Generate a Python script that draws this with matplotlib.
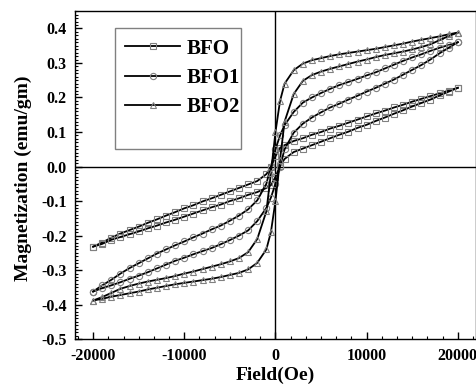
import matplotlib
matplotlib.use("Agg")
import matplotlib.pyplot as plt
from matplotlib.patches import Rectangle
from matplotlib.ticker import MultipleLocator, AutoMinorLocator

plt.rcParams["font.family"] = ["Liberation Serif", "DejaVu Serif"]
plt.rcParams["font.weight"] = "bold"
plt.rcParams["axes.unicode_minus"] = False

# Field grid (Oe), shared by every branch
field = [-20000, -19000, -18000, -17000, -16000, -15000, -14000, -13000, -12000, -11000,
         -10000, -9000, -8000, -7000, -6000, -5000, -4000, -3000, -2000, -1000,
         -500, 0, 500,
         1000, 2000, 3000, 4000, 5000, 6000, 7000, 8000, 9000, 10000,
         11000, 12000, 13000, 14000, 15000, 16000, 17000, 18000, 19000, 20000]

# Magnetization (emu/gm): descending branch (upper) and ascending branch (lower)
bfo_upper = [-0.232, -0.220, -0.206, -0.194, -0.184, -0.174, -0.163, -0.153, -0.142, -0.132,
             -0.121, -0.112, -0.101, -0.092, -0.082, -0.072, -0.062, -0.052, -0.042, -0.022,
             -0.002, 0.030, 0.054,
             0.062, 0.074, 0.082, 0.092, 0.100, 0.110, 0.118, 0.127, 0.136, 0.145,
             0.154, 0.162, 0.171, 0.179, 0.188, 0.196, 0.204, 0.212, 0.220, 0.228]
bfo_lower = [-0.232, -0.224, -0.212, -0.204, -0.196, -0.188, -0.179, -0.171, -0.162, -0.154,
             -0.145, -0.136, -0.127, -0.118, -0.110, -0.100, -0.092, -0.082, -0.074, -0.062,
             -0.054, -0.030, 0.002,
             0.022, 0.042, 0.052, 0.062, 0.072, 0.082, 0.092, 0.101, 0.112, 0.121,
             0.132, 0.142, 0.153, 0.163, 0.174, 0.184, 0.194, 0.206, 0.217, 0.228]

bfo1_upper = [-0.362, -0.344, -0.328, -0.310, -0.294, -0.280, -0.266, -0.252, -0.240, -0.228,
              -0.217, -0.205, -0.194, -0.182, -0.171, -0.157, -0.142, -0.124, -0.098, -0.050,
              0.000, 0.050, 0.090,
              0.120, 0.158, 0.185, 0.200, 0.213, 0.225, 0.236, 0.245, 0.254, 0.264,
              0.273, 0.284, 0.295, 0.306, 0.316, 0.325, 0.335, 0.344, 0.352, 0.360]
bfo1_lower = [-0.362, -0.352, -0.344, -0.335, -0.325, -0.316, -0.306, -0.295, -0.284, -0.273,
              -0.264, -0.254, -0.245, -0.236, -0.225, -0.213, -0.200, -0.185, -0.158, -0.120,
              -0.090, -0.050, 0.000,
              0.050, 0.098, 0.124, 0.142, 0.157, 0.171, 0.182, 0.194, 0.205, 0.217,
              0.228, 0.240, 0.252, 0.266, 0.280, 0.294, 0.310, 0.328, 0.344, 0.360]

bfo2_upper = [-0.388, -0.378, -0.366, -0.354, -0.346, -0.339, -0.333, -0.328, -0.323, -0.317,
              -0.310, -0.304, -0.297, -0.290, -0.283, -0.275, -0.265, -0.248, -0.210, -0.130,
              -0.020, 0.100, 0.190,
              0.240, 0.279, 0.298, 0.308, 0.314, 0.320, 0.325, 0.329, 0.333, 0.337,
              0.341, 0.346, 0.351, 0.356, 0.362, 0.367, 0.372, 0.377, 0.383, 0.388]
bfo2_lower = [-0.388, -0.383, -0.377, -0.372, -0.367, -0.362, -0.356, -0.351, -0.346, -0.341,
              -0.337, -0.333, -0.329, -0.325, -0.320, -0.314, -0.308, -0.298, -0.279, -0.240,
              -0.190, -0.100, 0.020,
              0.130, 0.210, 0.248, 0.265, 0.275, 0.283, 0.290, 0.297, 0.304, 0.310,
              0.317, 0.323, 0.328, 0.333, 0.339, 0.346, 0.354, 0.366, 0.378, 0.388]

samples = [("BFO", "s", bfo_upper, bfo_lower),
           ("BFO1", "o", bfo1_upper, bfo1_lower),
           ("BFO2", "^", bfo2_upper, bfo2_lower)]

fig = plt.figure(figsize=(4.77, 3.85), dpi=100)
ax = fig.add_axes([0.157, 0.119, 0.841, 0.852])

ax.axhline(0, color="black", lw=1.0, zorder=1)
ax.axvline(0, color="black", lw=1.0, zorder=1)

style = dict(color="black", lw=1.3, ms=4.5, mfc="none", mec="#808080", mew=0.8)
for name, marker, upper, lower in samples:
    ax.plot(field, upper, marker=marker, label=name, **style)
    ax.plot(field, lower, marker=marker, **style)

ax.set_xlim(-22000, 22000)
ax.set_ylim(-0.5, 0.45)
ax.xaxis.set_major_locator(MultipleLocator(10000))
ax.xaxis.set_minor_locator(AutoMinorLocator(6))
ax.yaxis.set_major_locator(MultipleLocator(0.1))
ax.yaxis.set_minor_locator(AutoMinorLocator(10))
ax.tick_params(which="both", direction="in", top=False, right=False, labelsize=11.5, pad=6)
ax.tick_params(which="major", length=5, width=1)
ax.tick_params(which="minor", length=2.5, width=0.8)
ax.yaxis.set_major_formatter(plt.FuncFormatter(lambda v, p: f"{v:.1f}"))
for s in ax.spines.values():
    s.set_linewidth(1.0)

ax.set_xlabel("Field(Oe)", fontsize=14, fontweight="bold")
ax.set_ylabel("Magnetization (emu/gm)", fontsize=14, fontweight="bold")
ax.xaxis.set_label_coords(0.5, -0.085)
ax.yaxis.set_label_coords(-0.107, 0.49)

ax.add_patch(Rectangle((0.1, 0.579), 0.314, 0.369, transform=ax.transAxes,
                       fill=False, edgecolor="#808080", lw=1.0, zorder=3))
ax.legend(loc="upper left", bbox_to_anchor=(0.1, 0.948), frameon=False, fontsize=15,
          handlelength=2.6, handletextpad=0.36, labelspacing=0.45, borderpad=0.5,
          borderaxespad=0)

fig.savefig("out.png", dpi=100)
